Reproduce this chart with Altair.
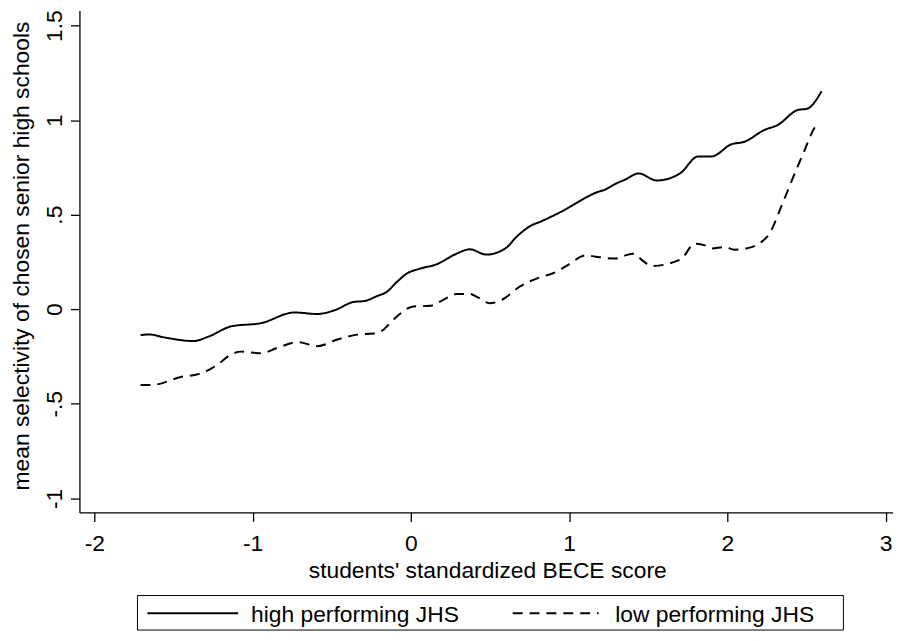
import altair as alt
import pandas as pd

series_names = ["high performing JHS", "low performing JHS"]

high_x = [-1.708, -1.656, -1.55, -1.374, -1.280, -1.134, -0.945, -0.736, -0.590, -0.485,
          -0.359, -0.297, -0.213, -0.151, -0.088, -0.025, 0.058, 0.163, 0.289, 0.372,
          0.477, 0.602, 0.665, 0.748, 0.832, 0.979, 1.104, 1.167, 1.230, 1.292,
          1.355, 1.439, 1.554, 1.700, 1.815, 1.899, 2.024, 2.108, 2.233, 2.317,
          2.442, 2.505, 2.595]
high_y = [-0.137, -0.133, -0.150, -0.168, -0.145, -0.090, -0.073, -0.017, -0.025, -0.006,
          0.039, 0.043, 0.070, 0.093, 0.145, 0.189, 0.215, 0.238, 0.294, 0.317,
          0.289, 0.325, 0.381, 0.437, 0.468, 0.529, 0.590, 0.616, 0.634, 0.663,
          0.686, 0.718, 0.681, 0.718, 0.808, 0.808, 0.872, 0.886, 0.948, 0.974,
          1.053, 1.061, 1.153]

low_x = [-1.708, -1.636, -1.447, -1.343, -1.259, -1.217, -1.134, -1.071, -0.945, -0.841,
         -0.715, -0.590, -0.464, -0.339, -0.234, -0.171, -0.151, -0.088, 0.017, 0.121,
         0.205, 0.289, 0.372, 0.414, 0.497, 0.582, 0.686, 0.811, 0.895, 0.999,
         1.104, 1.167, 1.292, 1.355, 1.407, 1.470, 1.523, 1.648, 1.711, 1.794,
         1.857, 1.899, 1.982, 2.045, 2.171, 2.213, 2.265, 2.338, 2.422, 2.484,
         2.551, 2.580]
low_y = [-0.400, -0.400, -0.357, -0.343, -0.313, -0.290, -0.238, -0.224, -0.233, -0.203,
         -0.174, -0.195, -0.160, -0.134, -0.128, -0.107, -0.090, -0.038, 0.015, 0.018,
         0.050, 0.081, 0.081, 0.067, 0.032, 0.053, 0.119, 0.168, 0.189, 0.238,
         0.285, 0.278, 0.268, 0.285, 0.294, 0.253, 0.229, 0.246, 0.268, 0.346,
         0.338, 0.321, 0.329, 0.315, 0.334, 0.355, 0.399, 0.539, 0.712, 0.834,
         0.961, 0.990]

x_ticks = [-2, -1, 0, 1, 2, 3]
y_ticks = [-1, -0.5, 0, 0.5, 1, 1.5]

df = pd.concat([
    pd.DataFrame({"x": high_x, "y": high_y, "group": series_names[0]}),
    pd.DataFrame({"x": low_x, "y": low_y, "group": series_names[1]}),
], ignore_index=True)
legend_df = pd.DataFrame({"label": series_names})

FONT = "Liberation Sans"
W, H = 820, 506
DASH = [10, 7]

lines = alt.Chart(df).mark_line(
    interpolate="monotone", strokeWidth=2, color="black"
).encode(
    x=alt.X(
        "x:Q",
        scale=alt.Scale(domain=[-2.094, 3.046], nice=False, zero=False),
        axis=alt.Axis(
            values=x_ticks,
            labelExpr="toString(datum.value)",
            title="students' standardized BECE score",
            labelBaseline="top",
            labelPadding=11,
            titleX=411,
            titleY=66,
            titleAlign="center",
            titleBaseline="alphabetic",
        ),
    ),
    y=alt.Y(
        "y:Q",
        scale=alt.Scale(domain=[-1.0745, 1.58], nice=False, zero=False),
        axis=alt.Axis(
            values=y_ticks,
            labelExpr="datum.value == 0.5 ? '.5' : datum.value == -0.5 ? '-.5' : toString(datum.value)",
            title="mean selectivity of chosen senior high schools",
            labelAngle=270,
            labelAlign="center",
            labelBaseline="middle",
            labelPadding=16,
            titleAngle=270,
            titleX=-69,
            titleY=247,
            titleAlign="center",
            titleBaseline="top",
        ),
    ),
    strokeDash=alt.StrokeDash(
        "group:N",
        scale=alt.Scale(domain=series_names, range=[[1, 0], DASH]),
        legend=None,
    ),
)

# legend (drawn below the plot)
box = alt.Chart(legend_df).transform_filter(
    alt.datum.label == series_names[0]
).mark_rect(fillOpacity=0, stroke="black", strokeWidth=1).encode(
    x=alt.value(58.5), x2=alt.value(770), y=alt.value(589.7), y2=alt.value(624.5)
)

key_high = alt.Chart(legend_df).transform_filter(
    alt.datum.label == series_names[0]
).mark_rule(strokeWidth=2, color="black").encode(
    x=alt.value(68.5), x2=alt.value(160), y=alt.value(607.6)
)
key_low = alt.Chart(legend_df).transform_filter(
    alt.datum.label == series_names[1]
).mark_rule(strokeWidth=2, color="black", strokeDash=DASH).encode(
    x=alt.value(436.7), x2=alt.value(523.3), y=alt.value(607.6)
)
text_style = dict(align="left", baseline="alphabetic", fontSize=23, font=FONT, color="black")
label_high = alt.Chart(legend_df).transform_filter(
    alt.datum.label == series_names[0]
).mark_text(**text_style).encode(
    x=alt.value(173), y=alt.value(616), text="label:N"
)
label_low = alt.Chart(legend_df).transform_filter(
    alt.datum.label == series_names[1]
).mark_text(**text_style).encode(
    x=alt.value(540), y=alt.value(616), text="label:N"
)

chart = alt.layer(lines, box, key_high, key_low, label_high, label_low).properties(
    width=W,
    height=H,
    autosize=alt.AutoSizeParams(type="none"),
    padding={"left": 72, "top": 0, "right": 0, "bottom": 119},
).configure(
    font=FONT,
).configure_view(
    stroke=None,
).configure_axis(
    grid=False,
    domainColor="black",
    domainWidth=1.3,
    tickColor="black",
    tickWidth=1.3,
    tickSize=9,
    labelColor="black",
    labelFontSize=23,
    labelFont=FONT,
    labelFlush=False,
    labelOverlap=False,
    labelBound=False,
    titleColor="black",
    titleFontSize=23,
    titleFont=FONT,
    titleFontWeight="normal",
)

chart.save("out.html", embed_options={"renderer": "svg", "actions": False})
